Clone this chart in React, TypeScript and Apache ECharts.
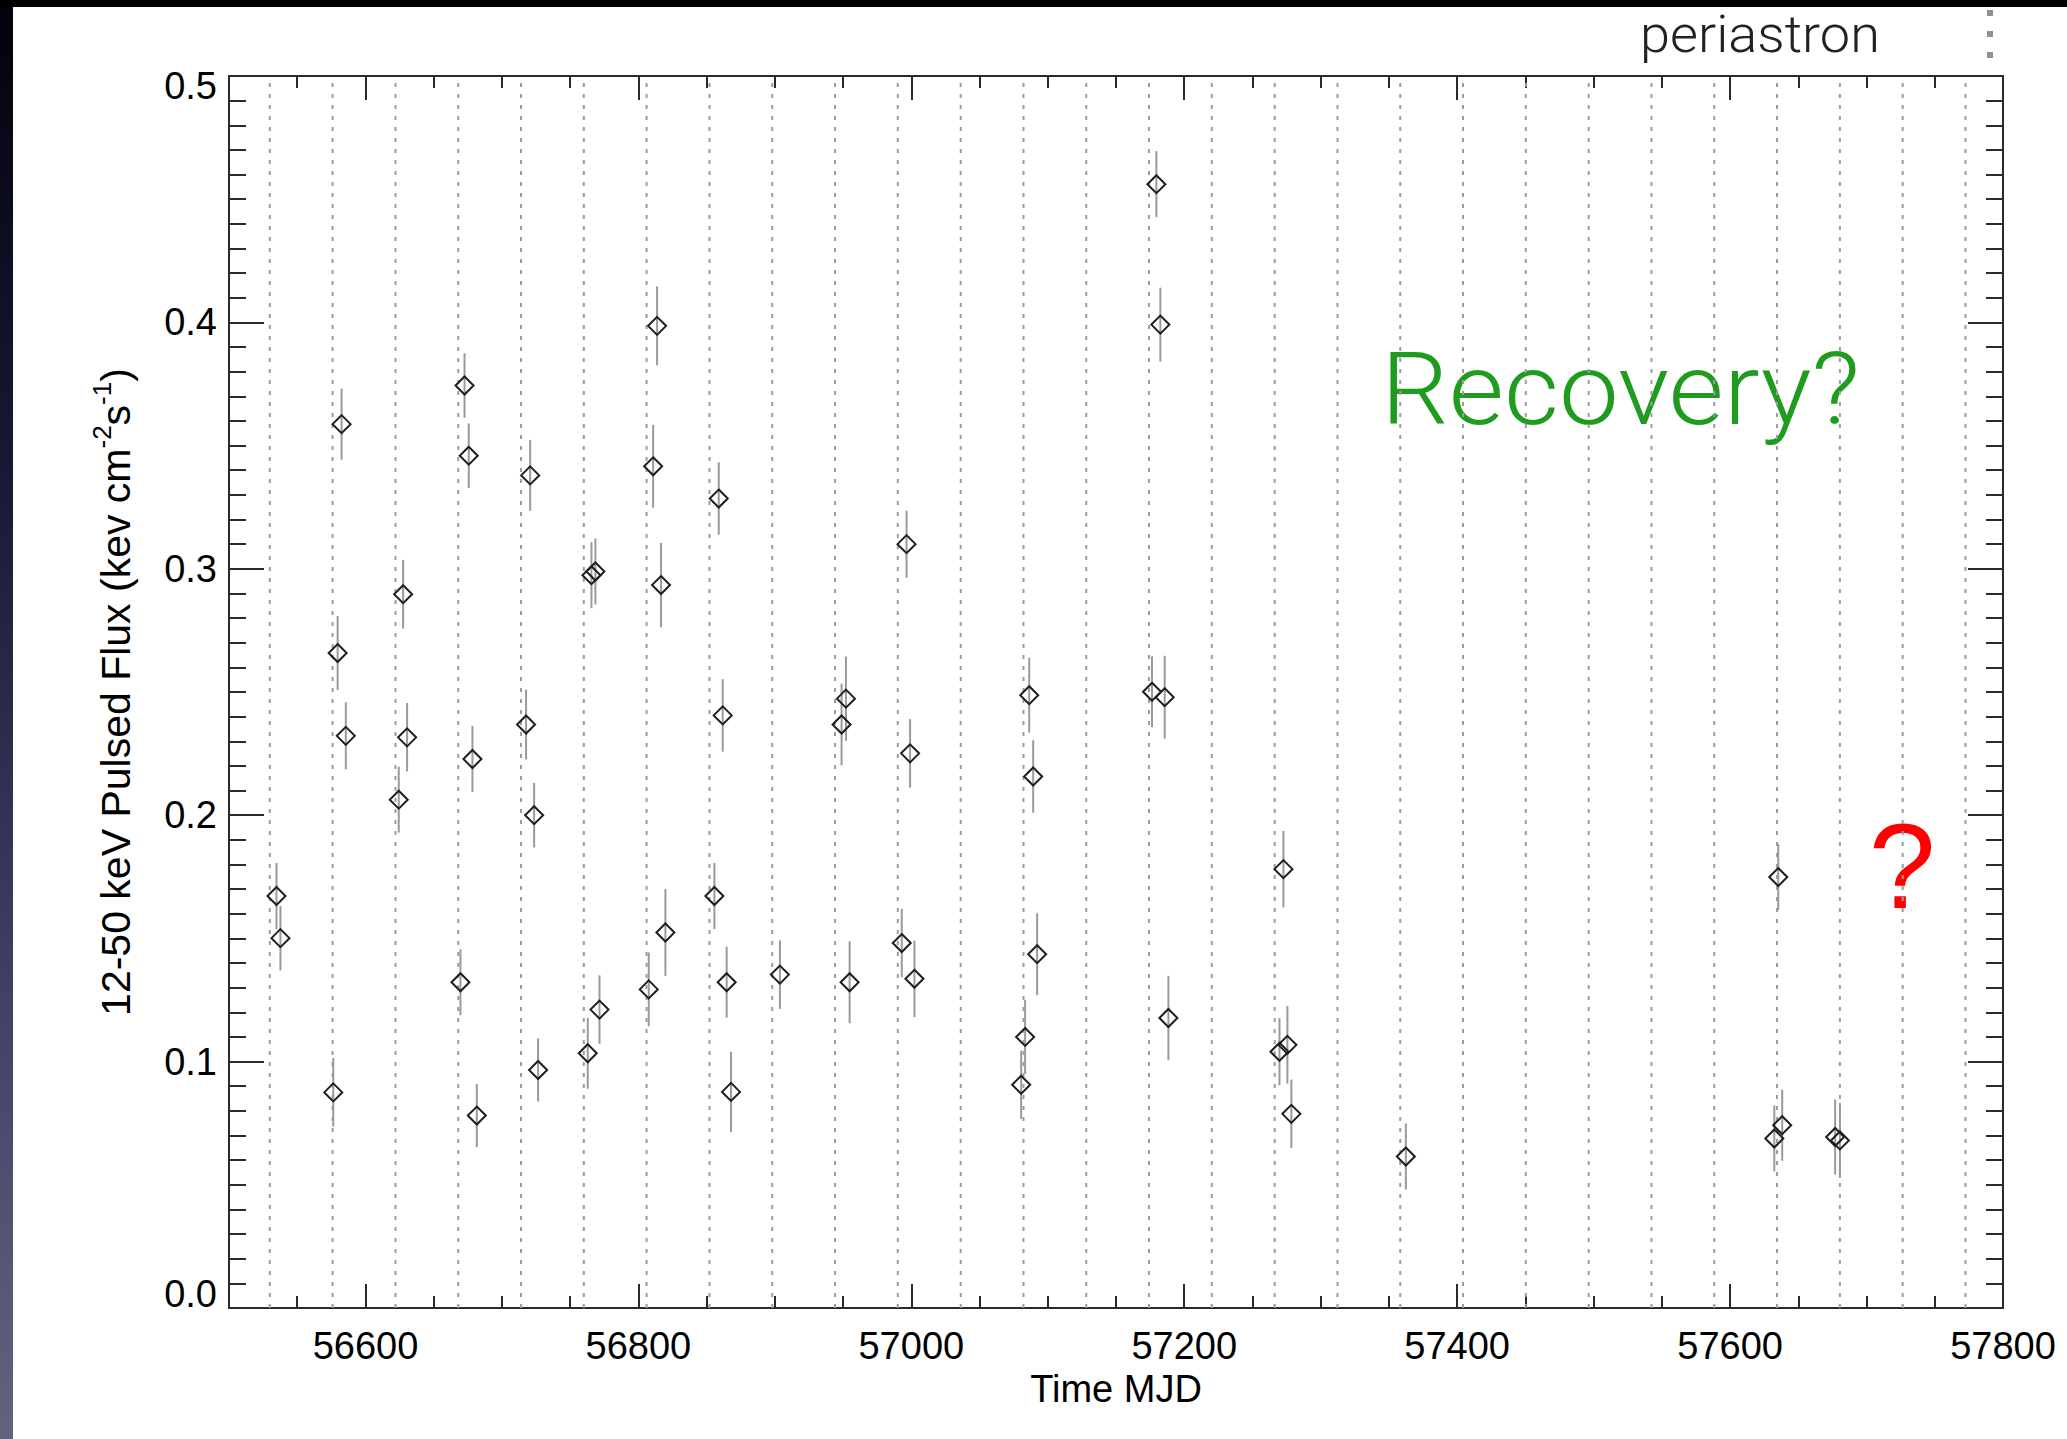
import React, { useEffect, useRef } from "react";
import * as echarts from "echarts";

// ---- data ----
const mjd = [
  56534.8, 56537.7, 56576.4, 56579.6, 56582.5, 56585.6, 56624.4, 56627.6, 56630.5, 56669.6,
  56672.6, 56675.7, 56678.4, 56681.6, 56717.7, 56720.7, 56723.6, 56726.5, 56762.9, 56765.6,
  56768.5, 56771.5, 56807.6, 56810.8, 56813.7, 56816.6, 56819.8, 56855.7, 56858.9, 56861.8,
  56864.7, 56867.9, 56903.7, 56948.9, 56952.1, 56954.8, 56993.0, 56996.5, 56999.1, 57002.3,
  57080.5, 57083.4, 57086.4, 57089.3, 57092.2, 57176.4, 57179.6, 57182.5, 57185.7, 57188.4,
  57269.8, 57272.7, 57275.6, 57278.5, 57362.4, 57632.4, 57635.3, 57638.2, 57677.0, 57680.5,
];
const flux = [
  0.1672, 0.1501, 0.0875, 0.2658, 0.3587, 0.2322, 0.2063, 0.2897, 0.2316, 0.1322,
  0.3744, 0.3459, 0.2228, 0.0781, 0.2368, 0.3379, 0.2, 0.0966, 0.1034, 0.2974,
  0.2989, 0.1211, 0.1293, 0.3416, 0.3986, 0.2934, 0.1524, 0.1672, 0.3285, 0.2405,
  0.1322, 0.0877, 0.1353, 0.2368, 0.2473, 0.1322, 0.1481, 0.31, 0.2251, 0.1336,
  0.0906, 0.11, 0.2487, 0.2157, 0.1436, 0.2501, 0.4561, 0.3991, 0.2479, 0.1177,
  0.104, 0.1781, 0.1068, 0.0788, 0.0615, 0.0688, 0.1749, 0.0742, 0.0694, 0.068,
];
const fluxErr = [
  0.0134, 0.0131, 0.0139, 0.015, 0.0144, 0.0136, 0.0134, 0.0139, 0.0139, 0.0134,
  0.0131, 0.0131, 0.0134, 0.0128, 0.0142, 0.0144, 0.0131, 0.0128, 0.0144, 0.0134,
  0.0134, 0.0139, 0.015, 0.0168, 0.016, 0.0171, 0.0176, 0.0134, 0.0147, 0.0147,
  0.0144, 0.0163, 0.0139, 0.0166, 0.0171, 0.0166, 0.0139, 0.0136, 0.0139, 0.0155,
  0.0139, 0.015, 0.0152, 0.0147, 0.0166, 0.0144, 0.0134, 0.015, 0.0168, 0.0171,
  0.0136, 0.0155, 0.0158, 0.0139, 0.0134, 0.0134, 0.0134, 0.0144, 0.0152, 0.0152,
];
const periastronMJD = [
  56529.9, 56575.9, 56622.0, 56668.0, 56714.0, 56760.0, 56806.0, 56852.1, 56898.1, 56944.1,
  56990.1, 57036.2, 57082.2, 57128.2, 57174.2, 57220.2, 57266.3, 57312.3, 57358.3, 57404.3,
  57450.3, 57496.4, 57542.4, 57588.4, 57634.4, 57680.5, 57726.5, 57772.5,
];
const xMajorTicks = [56600, 56800, 57000, 57200, 57400, 57600, 57800];
const xRange = [56500, 57800];
const yRange = [0, 0.5];

const FONT = "'Liberation Sans', Arial, Helvetica, sans-serif";
const LIGHT_FONT = "Roboto, 'Liberation Sans', sans-serif";
const AXIS_COLOR = "#2a2a2a";

export default function App() {
  const ref = useRef<HTMLDivElement>(null);

  useEffect(() => {
    const chart = echarts.init(ref.current as HTMLDivElement, null, { renderer: "svg" });
    const lineStyle = { color: AXIS_COLOR, width: 2 };

    const xBase = (position: string) => ({
      type: "value",
      position,
      min: xRange[0],
      max: xRange[1],
      splitLine: { show: false },
      axisLine: { show: false, onZero: false, lineStyle },
      axisLabel: { show: false },
    });
    const yBase = (position: string) => ({
      type: "value",
      position,
      min: yRange[0],
      max: yRange[1],
      splitLine: { show: false },
      axisLine: { show: false, onZero: false, lineStyle },
      axisLabel: { show: false },
    });

    const option: any = {
      animation: false,
      backgroundColor: "#ffffff",
      grid: { left: 229, top: 76, width: 1774, height: 1232, containLabel: false },
      xAxis: [
        {
          ...xBase("bottom"),
          interval: 50,
          axisLine: { show: true, onZero: false, lineStyle },
          axisTick: { show: true, inside: true, length: 12, lineStyle },
          axisLabel: {
            show: true,
            margin: 19,
            fontSize: 38,
            color: "#000",
            fontFamily: FONT,
            formatter: (v: number) => (xMajorTicks.indexOf(Math.round(v)) >= 0 ? String(Math.round(v)) : ""),
          },
          name: "Time MJD",
          nameLocation: "middle",
          nameGap: 62,
          nameTextStyle: { fontSize: 38, color: "#000", fontFamily: FONT },
        },
        {
          ...xBase("bottom"),
          axisTick: { show: true, inside: true, length: 24, lineStyle, customValues: xMajorTicks },
        },
        {
          ...xBase("top"),
          interval: 50,
          axisLine: { show: true, onZero: false, lineStyle },
          axisTick: { show: true, inside: true, length: 12, lineStyle },
        },
        {
          ...xBase("top"),
          axisTick: { show: true, inside: true, length: 24, lineStyle, customValues: xMajorTicks },
        },
      ],
      yAxis: [
        {
          ...yBase("left"),
          interval: 0.1,
          axisLine: { show: true, onZero: false, lineStyle },
          axisTick: { show: true, inside: true, length: 35, lineStyle },
          axisLabel: {
            show: true,
            margin: 12,
            fontSize: 38,
            color: "#000",
            fontFamily: FONT,
            formatter: (v: number) => {
              const s = v.toFixed(1);
              if (s === "0.5") return "{top|" + s + "}";
              if (s === "0.0") return "{bot|" + s + "}";
              return s;
            },
            rich: {
              top: { fontSize: 38, fontFamily: FONT, color: "#000", padding: [20, 0, 0, 0] },
              bot: { fontSize: 38, fontFamily: FONT, color: "#000", padding: [0, 0, 28, 0] },
            },
          },
        },
        {
          ...yBase("left"),
          interval: 0.01,
          axisTick: { show: true, inside: true, length: 17, lineStyle },
        },
        {
          ...yBase("right"),
          interval: 0.1,
          axisLine: { show: true, onZero: false, lineStyle },
          axisTick: { show: true, inside: true, length: 35, lineStyle },
        },
        {
          ...yBase("right"),
          interval: 0.01,
          axisTick: { show: true, inside: true, length: 17, lineStyle },
        },
      ],
      series: [
        {
          type: "custom",
          name: "periastron",
          xAxisIndex: 0,
          yAxisIndex: 0,
          silent: true,
          data: periastronMJD.map((t) => [t, yRange[0], yRange[1]]),
          encode: { x: 0, y: [1, 2] },
          renderItem: (params: any, api: any) => {
            const p0 = api.coord([api.value(0), api.value(1)]);
            const p1 = api.coord([api.value(0), api.value(2)]);
            return {
              type: "line",
              shape: { x1: p0[0], y1: p0[1], x2: p1[0], y2: p1[1] },
              style: { stroke: "#9c9c9c", lineWidth: 2, lineDash: [4, 7], fill: null },
            };
          },
          z: 1,
        },
        {
          type: "custom",
          name: "errors",
          xAxisIndex: 0,
          yAxisIndex: 0,
          silent: true,
          data: mjd.map((t, i) => [t, flux[i] - fluxErr[i], flux[i] + fluxErr[i]]),
          encode: { x: 0, y: [1, 2] },
          renderItem: (params: any, api: any) => {
            const p0 = api.coord([api.value(0), api.value(1)]);
            const p1 = api.coord([api.value(0), api.value(2)]);
            return {
              type: "line",
              shape: { x1: p0[0], y1: p0[1], x2: p1[0], y2: p1[1] },
              style: { stroke: "#9a9a9a", lineWidth: 2, fill: null },
            };
          },
          z: 2,
        },
        {
          type: "scatter",
          name: "flux",
          xAxisIndex: 0,
          yAxisIndex: 0,
          silent: true,
          symbol: "diamond",
          symbolSize: 18,
          data: mjd.map((t, i) => [t, flux[i]]),
          itemStyle: { color: "rgba(0,0,0,0)", borderColor: "#1e1e1e", borderWidth: 2, opacity: 1 },
          emphasis: { disabled: true },
          z: 3,
        },
      ],
      graphic: [
        {
          type: "rect",
          z: -10,
          shape: { x: 0, y: 0, width: 13, height: 1439 },
          style: {
            fill: new echarts.graphic.LinearGradient(0, 0, 0, 1, [
              { offset: 0, color: "#02020c" },
              { offset: 0.35, color: "#1a1a3a" },
              { offset: 0.75, color: "#47476a" },
              { offset: 1, color: "#63637f" },
            ]),
          },
        },
        { type: "rect", z: -9, shape: { x: 0, y: 0, width: 2067, height: 7 }, style: { fill: "#000" } },
        {
          type: "text",
          x: 1640,
          y: 34,
          scaleX: 1.04,
          style: {
            text: "periastron",
            fontSize: 52,
            fontWeight: 300,
            fontFamily: LIGHT_FONT,
            fill: "#222",
            align: "left",
            verticalAlign: "middle",
          },
        },
        {
          type: "line",
          shape: { x1: 1990, y1: 10, x2: 1990, y2: 58 },
          style: { stroke: "#8c909a", lineWidth: 6, lineDash: [6, 15] },
        },
        {
          type: "text",
          x: 1381,
          y: 390,
          scaleX: 1.067,
          style: {
            text: "Recovery?",
            fontSize: 100,
            fontWeight: 300,
            fontFamily: LIGHT_FONT,
            fill: "#1f9b1f",
            align: "left",
            verticalAlign: "middle",
          },
        },
        {
          type: "text",
          x: 1902,
          y: 866,
          style: {
            text: "?",
            fontSize: 120,
            fontFamily: FONT,
            fill: "#ff0000",
            align: "center",
            verticalAlign: "middle",
          },
        },
        {
          type: "text",
          x: 116,
          y: 692,
          rotation: Math.PI / 2,
          style: {
            text: "{n|12-50 keV Pulsed Flux (kev cm}{sup|-2}{n|s}{sup|-1}{n|)}",
            align: "center",
            verticalAlign: "middle",
            rich: {
              n: { fontSize: 41, fontFamily: FONT, fill: "#000", lineHeight: 54 },
              sup: { fontSize: 26, fontFamily: FONT, fill: "#000", lineHeight: 26, verticalAlign: "top" },
            },
          },
        },
      ],
    };

    chart.setOption(option);
    return () => chart.dispose();
  }, []);

  return (
    <div
      ref={ref}
      style={{ position: "fixed", left: 0, top: 0, width: 2067, height: 1439, background: "#fff" }}
    />
  );
}
